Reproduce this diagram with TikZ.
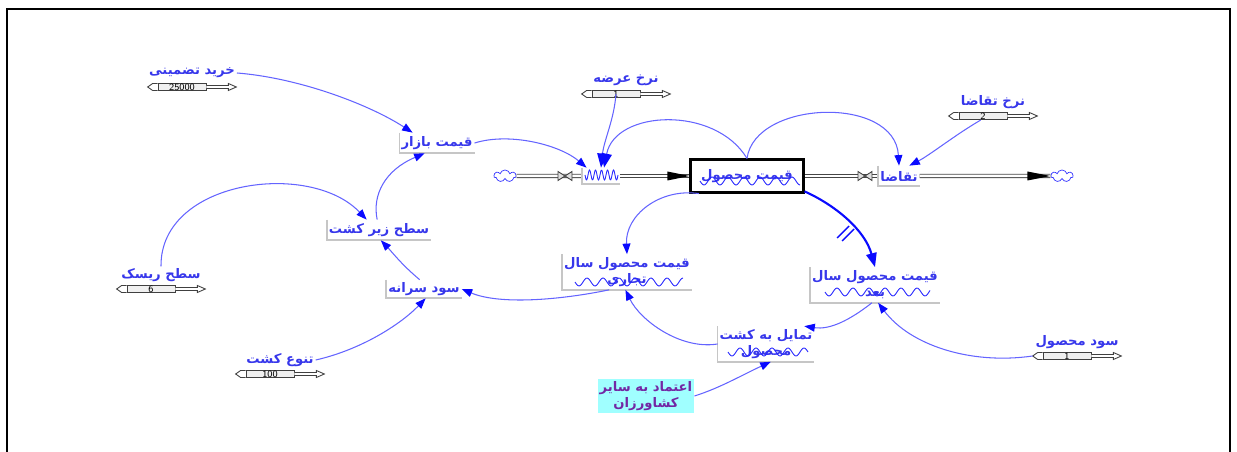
\documentclass[tikz,border=0pt]{standalone}
\usepackage{fontspec}
\usetikzlibrary{positioning,shapes.symbols,arrows.meta}
\newfontfamily\fa[Script=Arabic]{DejaVu Sans}
\TeXXeTstate=1
\newcommand{\fatxt}[1]{{\fa\beginR #1\endR}}
\definecolor{lblblue}{RGB}{55,55,235}
\definecolor{linkblue}{RGB}{100,100,255}
\definecolor{tipblue}{RGB}{10,10,255}
\definecolor{trustcyan}{RGB}{160,255,255}
\tikzset{
  lbl/.style={text=lblblue, font=\fa\bfseries\fontsize{7.5}{9}\selectfont, inner sep=1pt, align=center},
  boxedge/.style={draw=gray!45, line width=1pt},
  stockbox/.style={lbl, draw=black, line width=1.2pt, minimum width=2.26cm, minimum height=0.66cm},
  cloudy/.style={cloud, draw=blue!80, cloud puffs=7, aspect=2, minimum width=0.44cm, minimum height=0.24cm, inner sep=0pt},
  pipe/.style={draw=gray!55!black, line width=0.5pt, double=white, double distance=0.05cm},
  valve/.style={draw=gray!50!black, fill=gray!25, line width=0.5pt},
  sliderbox/.style={draw=gray!50!black, fill=gray!12, minimum width=0.96cm, minimum height=0.15cm, inner sep=0pt, font=\sffamily\fontsize{5.5}{5.5}\selectfont, text depth=0pt},
  sliderend/.style={draw=gray!50!black, fill=white, line width=0.5pt},
  wavy/.style={draw=blue!85, line width=0.5pt},
  link/.style={draw=linkblue, line width=0.6pt, -{Triangle[length=6pt, width=4.5pt, color=tipblue]}},
  biglink/.style={link, -{Triangle[length=8pt, width=6pt, color=tipblue]}}
}
\newcommand{\constslider}[5]{%
  \node[sliderbox] (#1b) at (#2,#3) {#4};
  \node[lbl] (#1) at (#2+10,#3-14) {{\fa #5}};
  \draw[sliderend] (#1b.west) ++(0,-3.5) -- ++(-5,0) -- ++(-5,3.5) -- ++(5,3.5) -- ++(5,0);
  \draw[sliderend] (#1b.east) ++(0,-1.5) -- ++(22,0) -- ++(0,-2) -- ++(8,3.5) -- ++(-8,3.5) -- ++(0,-2) -- ++(-22,0);
}
\newcommand{\wave}[3]{\draw[wavy] plot[domain=#1:#2, samples=80, smooth] (\x,{#3+4*sin(22.5*(\x-#1))});}
\begin{document}
\begin{tikzpicture}[x=0.02cm, y=-0.02cm]
\useasboundingbox (0,0) rectangle (1237,452);
\draw[line width=0.7pt] (7,452) -- (7,9) -- (1230,9) -- (1230,452);

\node[stockbox] (stock) at (747,176) {\fatxt{قیمت محصول}};
\node[lbl, minimum width=0.74cm, minimum height=0.32cm] (arze) at (601,176) {};
\node[lbl, minimum width=0.72cm, minimum height=0.4cm] (taghaza) at (899,176) {\fatxt{تقاضا}};
\node[cloudy] (cloudL) at (505,176) {};
\node[cloudy] (cloudR) at (1062,176) {};
\coordinate (valveL) at (565,176);
\coordinate (valveR) at (865,176);

\node[lbl, minimum width=1.3cm, minimum height=0.4cm] (bazar) at (437,143) {\fatxt{قیمت بازار}};
\node[lbl, minimum width=1.84cm, minimum height=0.4cm] (zirkesht) at (379,230) {\fatxt{سطح زیر کشت}};
\node[lbl, minimum width=1.24cm, minimum height=0.36cm] (sarane) at (424,289) {\fatxt{سود سرانه}};
\node[lbl, minimum width=2.32cm, minimum height=0.7cm] (tejari) at (627,272) {\fatxt{قیمت محصول سال}\\\fatxt{تجاری}};
\node[lbl, minimum width=2.3cm, minimum height=0.7cm] (baad) at (875,285) {\fatxt{قیمت محصول سال}\\\fatxt{بعد}};
\node[lbl, minimum width=1.74cm, minimum height=0.7cm] (tamayol) at (766,344) {\fatxt{تمایل به کشت}\\\fatxt{محصول}};
\node[lbl, fill=trustcyan, text=lblblue!70!red, minimum width=1.72cm, minimum height=0.68cm] (etemad) at (646,396) {\fatxt{اعتماد به سایر}\\\fatxt{کشاورزان}};

\constslider{kharid}{182}{87}{25000}{\beginR خرید تضمینی\endR}
\constslider{arzerate}{616}{94}{1}{\beginR نرخ عرضه\endR}
\constslider{taghazarate}{983}{116}{2}{\beginR نرخ تقاضا\endR}
\constslider{risk}{151}{289}{6}{\beginR سطح ریسک\endR}
\constslider{tanavo}{270}{374}{100}{\beginR تنوع کشت\endR}
\constslider{soud}{1067}{356}{1}{\beginR سود محصول\endR}

\draw[pipe] (cloudL.east) -- (arze.west);
\draw[pipe] (arze.east) -- (stock.west);
\draw[pipe] (stock.east) -- (taghaza.west);
\draw[pipe] (taghaza.east) -- (cloudR.west);
\fill (stock.west) -- ++(-22,-4.5) -- ++(0,9) -- cycle;
\fill (cloudR.west) -- ++(-23,-4.5) -- ++(0,9) -- cycle;
\foreach \v in {valveL,valveR}
  \draw[valve] (\v) ++(-7,-4.5) -- ++(14,9) -- ++(0,-9) -- ++(-14,9) -- cycle;

\foreach \n in {bazar,zirkesht,sarane,tejari,baad,tamayol,arze,taghaza}
  \draw[boxedge] (\n.north west) -- (\n.south west) -- (\n.south east);
\wave{575}{683}{282}
\wave{825}{930}{292}
\wave{728}{808}{352}
\wave{700}{800}{181}
\draw[wavy] plot[domain=585:618, samples=60, smooth] (\x,{175+5*sin(60*(\x-585))});

\draw[link] (kharid.east) .. controls (300,78) and (370,105) .. (bazar.157);
\draw[link] (zirkesht.100) .. controls (372,195) and (385,170) .. (bazar.220);
\draw[link] (risk.north) .. controls (160,180) and (310,160) .. (zirkesht.140);
\draw[link] (sarane.115) .. controls (402,265) and (392,252) .. (zirkesht.-80);
\draw[link] (tanavo.east) .. controls (360,350) and (400,325) .. (sarane.-80);
\draw[link] (tejari.-135) .. controls (560,300) and (500,305) .. (sarane.east);
\draw[link] (bazar.east) .. controls (510,132) and (560,145) .. (arze.150);
\draw[biglink] (arzerateb.center) .. controls (614,120) and (604,140) .. (arze.north);
\draw[biglink] (stock.north) .. controls (715,105) and (615,110) .. (arze.70);
\draw[link] (stock.north) .. controls (755,100) and (895,95) .. (taghaza.north);
\draw[link] (taghazarateb.-120) .. controls (955,135) and (930,155) .. (taghaza.45);
\draw[link] (stock.-160) .. controls (660,188) and (625,215) .. (tejari.north);
\draw[biglink, line width=1.2pt, draw=tipblue] (stock.-15) .. controls (835,205) and (865,230) .. (baad.north);
\draw[tipblue, line width=0.8pt] (837,238) -- (849,226) (842,241) -- (854,229);
\draw[link] (baad.-100) .. controls (850,320) and (830,330) .. (tamayol.25);
\draw[link] (soudb.west) ++(-10,0) .. controls (970,365) and (910,345) .. (baad.-80);
\draw[link] (tamayol.west) .. controls (680,350) and (640,320) .. (tejari.-95);
\draw[link] (etemad.east) .. controls (720,388) and (742,375) .. (tamayol.-75);
\end{tikzpicture}
\end{document}
